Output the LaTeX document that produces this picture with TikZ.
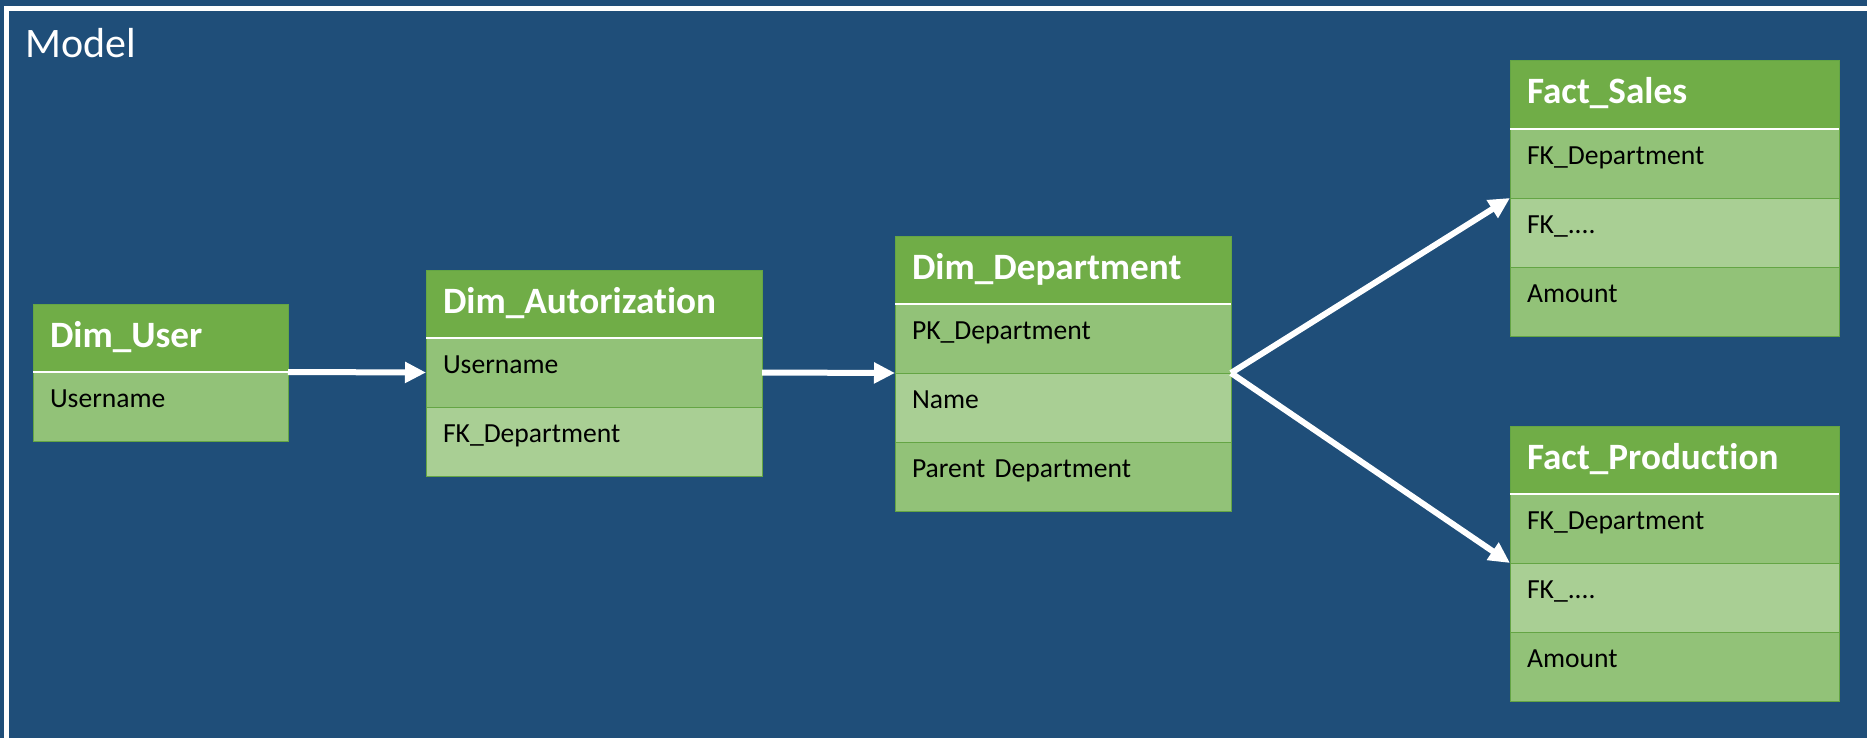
\documentclass[tikz,border=0pt]{standalone}
\usepackage{fontspec}
\setmainfont{Carlito}[Ligatures={NoCommon}]
\usetikzlibrary{positioning,arrows.meta}

\definecolor{modelblue}{RGB}{31,78,121}
\definecolor{headgreen}{RGB}{112,173,71}
\definecolor{rowdark}{RGB}{146,194,120}
\definecolor{rowlight}{RGB}{169,207,148}
\definecolor{edgegreen}{RGB}{100,165,68}

\tikzset{
  tblhead/.style={rectangle, fill=headgreen, draw=edgegreen, line width=0.5pt,
    text width=#1, inner xsep=8.5pt, inner ysep=0pt, outer sep=0pt,
    minimum height=34pt, text height=14pt, text depth=5pt, align=left,
    font=\fontsize{18.6}{20}\selectfont\bfseries, text=white},
  tblrow/.style={rectangle, fill=rowdark, draw=edgegreen, line width=0.5pt,
    text width=#1, inner xsep=8.5pt, inner ysep=0pt, outer sep=0pt,
    minimum height=34.5pt, text height=8.5pt, text depth=7.5pt, align=left,
    font=\fontsize{13.8}{16}\selectfont, text=black},
  tblrowlight/.style={tblrow=#1, fill=rowlight},
  headline/.style={draw=white, line width=1pt},
  link/.style={draw=white, line width=3pt, -{Triangle[length=10.5pt,width=10pt]}},
}

\begin{document}
\begin{tikzpicture}[x=0.5pt,y=-0.5pt]
  \fill[modelblue] (0,0) rectangle (1867,738);
  \useasboundingbox (0,0) rectangle (1867,738);
  \begin{scope}
    \clip (0,0) rectangle (1867,738);
    \draw[white, line width=2.5pt] (6.5,8.5) rectangle (1900,780);
  \end{scope}
  \node[anchor=base west, inner sep=0pt, text=white, font=\fontsize{21}{24}\selectfont] (title) at (25,58) {Model};

  % Dim_User
  \node[tblhead=110.5pt, anchor=north west] (user-h) at (33,304) {Dim\_User};
  \node[tblrow=110.5pt, below=0pt of user-h] (user-r1) {Username};
  \draw[headline] (user-h.south west) -- (user-h.south east);

  % Dim_Autorization
  \node[tblhead=151pt, anchor=north west] (aut-h) at (426,270) {Dim\_Autorization};
  \node[tblrow=151pt, below=0pt of aut-h] (aut-r1) {Username};
  \node[tblrowlight=151pt, below=0pt of aut-r1] (aut-r2) {FK\_Department};
  \draw[headline] (aut-h.south west) -- (aut-h.south east);

  % Dim_Department
  \node[tblhead=151pt, anchor=north west] (dept-h) at (895,236) {Dim\_Department};
  \node[tblrow=151pt, below=0pt of dept-h] (dept-r1) {PK\_Department};
  \node[tblrowlight=151pt, below=0pt of dept-r1] (dept-r2) {Name};
  \node[tblrow=151pt, below=0pt of dept-r2] (dept-r3) {Parent Department};
  \draw[headline] (dept-h.south west) -- (dept-h.south east);

  % Fact_Sales
  \node[tblhead=147.5pt, anchor=north west] (sales-h) at (1510,61) {Fact\_Sales};
  \node[tblrow=147.5pt, below=0pt of sales-h] (sales-r1) {FK\_Department};
  \node[tblrowlight=147.5pt, below=0pt of sales-r1] (sales-r2) {FK\_....};
  \node[tblrow=147.5pt, below=0pt of sales-r2] (sales-r3) {Amount};
  \draw[headline] (sales-h.south west) -- (sales-h.south east);

  % Fact_Production
  \node[tblhead=147.5pt, anchor=north west] (prod-h) at (1510,426) {Fact\_Production};
  \node[tblrow=147.5pt, below=0pt of prod-h] (prod-r1) {FK\_Department};
  \node[tblrowlight=147.5pt, below=0pt of prod-r1] (prod-r2) {FK\_....};
  \node[tblrow=147.5pt, below=0pt of prod-r2] (prod-r3) {Amount};
  \draw[headline] (prod-h.south west) -- (prod-h.south east);

  % links
  \draw[link] (user-h.south east) -- (aut-r1.west);
  \draw[link] (aut-r1.east) -- (dept-r1.south west);
  \draw[link] (dept-r1.south east) -- (sales-r1.south west);
  \draw[link] (dept-r1.south east) -- (prod-r1.south west);
\end{tikzpicture}
\end{document}
